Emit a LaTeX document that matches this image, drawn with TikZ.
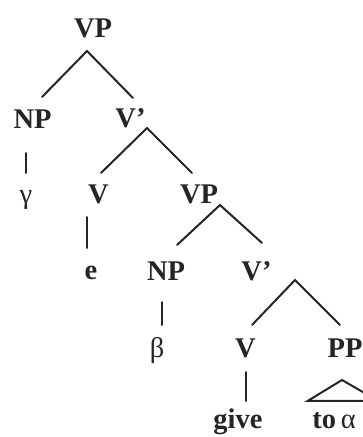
\documentclass[tikz,border=0pt]{standalone}
\usepackage{fontspec}
\setmainfont{Liberation Serif}
\usetikzlibrary{
  calc,
}
\definecolor{cInk}{RGB}{38, 36, 38}
\tikzset{
  % Category label (VP, NP, V', ...)
  catnode/.style={
    font=\fontsize{28.5}{30}\selectfont\bfseries,
    text=cInk, anchor=base, inner sep=0pt,
  },
  % Terminal word
  leafnode/.style={
    font=\fontsize{28.5}{30}\selectfont\bfseries,
    text=cInk, anchor=base, inner sep=0pt,
  },
  % Greek placeholder
  greeknode/.style={
    font=\fontsize{28.5}{30}\selectfont,
    text=cInk, anchor=base, inner sep=0pt,
  },
  % Tree branch
  branch/.style={line width=2pt, draw=cInk, line cap=round, line join=miter},
}

\begin{document}
\begin{tikzpicture}[x=1pt, y=-1pt]

\clip (0,0) rectangle (363,437);

% ── Upper VP ───────────────────────────────────────────────────────────────────
\node[catnode] (vp1) at (93,37) {VP};
\node[catnode] (np1) at (32.5,128) {NP};
\node[catnode] (vb1) at (130.5,127) {V'};

\draw[branch]
  ($(np1.base)+(9.5,-31)$) -- ($(vp1.base)+(-6,14)$) -- ($(vb1.base)+(2.5,-29)$);

% Subject
\node[greeknode] (gam) at (26,203) {γ};
\draw[branch] ($(np1.base)+(-6.5,25)$) -- ($(gam.base)+(0,-30)$);

% ── V' : empty verb and lower VP ───────────────────────────────────────────────
\node[catnode] (v1) at (98.5,203) {V};
\node[catnode] (vp2) at (199,203) {VP};

\draw[branch]
  ($(v1.base)+(2.5,-30)$) -- ($(vb1.base)+(16.5,1)$) -- ($(vp2.base)+(-7,-30)$);

\node[leafnode] (e) at (91,279) {e};
\draw[branch] ($(v1.base)+(-11.5,14)$) -- ($(e.base)+(-4,-31)$);

% ── Lower VP ───────────────────────────────────────────────────────────────────
\node[catnode] (np2) at (166,280) {NP};
\node[catnode] (vb2) at (256.5,280) {V'};

\draw[branch]
  ($(np2.base)+(11,-35)$) -- ($(vp2.base)+(21,2)$) -- ($(vb2.base)+(5.5,-37)$);

% Object
\node[greeknode] (beta) at (157,357) {β};
\draw[branch] ($(np2.base)+(-4,22)$) -- ($(beta.base)+(5,-32)$);

% ── Lower V' : verb and PP ─────────────────────────────────────────────────────
\node[catnode] (v2) at (245.5,357) {V};
\node[catnode] (pp) at (345,357) {PP};

\draw[branch]
  ($(v2.base)+(6.5,-32)$) -- ($(vb2.base)+(38.5,0)$) -- ($(pp.base)+(-5,-32)$);

\node[leafnode] (give) at (238,428) {give};
\draw[branch] ($(v2.base)+(0.5,15)$) -- ($(give.base)+(8,-27)$);

% PP left unanalysed
\node[greeknode] (toa) at (334,428) {\textbf{to}\,α};
\draw[branch]
  ($(pp.base)+(-3,23)$) -- ($(toa.north)+(-26,-11)$) -- ($(toa.north)+(44,-11)$) -- cycle;

\end{tikzpicture}
\end{document}
